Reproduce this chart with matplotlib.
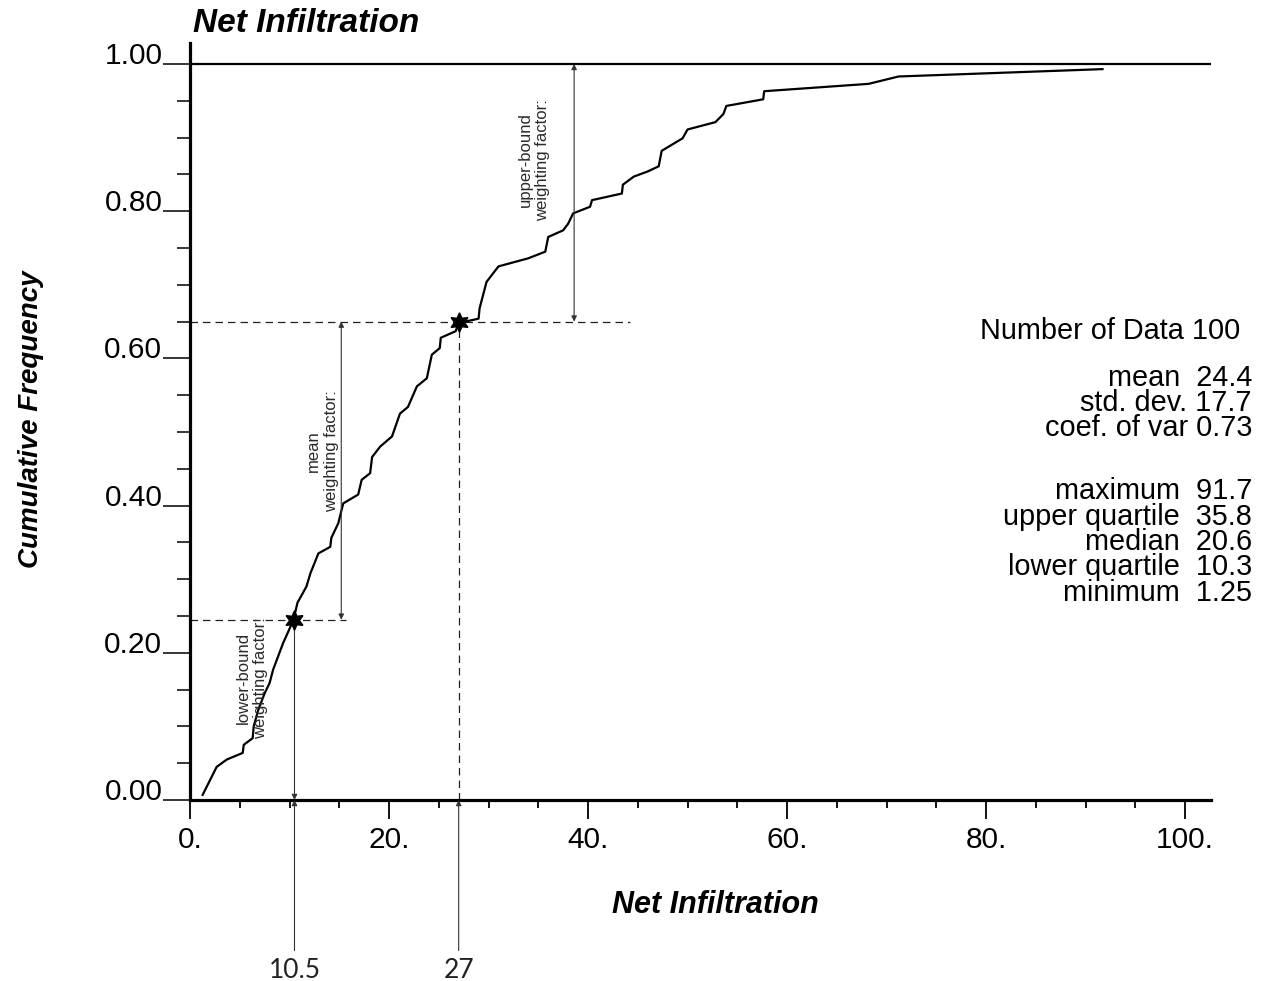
import matplotlib
matplotlib.use('Agg')
import matplotlib.pyplot as plt
import numpy as np

plt.rcParams['font.family'] = ['Liberation Sans', 'DejaVu Sans']

# cumulative frequency curve of net infiltration
net_infil = [1.27, 2.68, 3.7, 5.3, 5.4, 6.3, 6.4, 6.85, 7.5, 8.0, 8.35, 8.85,
             9.35, 9.85, 10.4, 10.8, 11.7, 12.1, 12.9, 14.1, 14.2, 14.9, 15.4,
             16.9, 17.25, 18.1, 18.3, 19.1, 20.3, 21.1, 21.9, 22.8, 23.8, 24.3,
             25.1, 25.2, 26.7, 27.0, 29.0, 29.1, 29.8, 31.0, 34.0, 35.7, 36.0,
             37.5, 38.0, 38.5, 40.2, 40.4, 43.4, 43.5, 44.6, 46.0, 47.1, 47.4,
             49.5, 50.0, 52.8, 53.6, 53.9, 57.6, 57.7, 68.2, 71.2, 91.7]
cum_freq = [0.007, 0.045, 0.055, 0.064, 0.075, 0.084, 0.10, 0.122, 0.145, 0.159,
            0.177, 0.195, 0.213, 0.228, 0.245, 0.268, 0.29, 0.308, 0.335, 0.344,
            0.356, 0.376, 0.403, 0.415, 0.435, 0.444, 0.466, 0.48, 0.494, 0.525,
            0.534, 0.562, 0.573, 0.605, 0.614, 0.628, 0.637, 0.648, 0.654, 0.668,
            0.704, 0.725, 0.736, 0.745, 0.765, 0.774, 0.783, 0.797, 0.806, 0.815,
            0.824, 0.836, 0.847, 0.854, 0.861, 0.882, 0.899, 0.911, 0.921, 0.932,
            0.943, 0.952, 0.963, 0.973, 0.983, 0.993]

lower_pt = (10.5, 0.245)
upper_pt = (27.0, 0.65)
lower_dash_end = 15.7
upper_dash_end = 44.2
mean_arrow_x = 15.2
upper_arrow_x = 38.6

stat_moments = ['mean  24.4', 'std. dev. 17.7', 'coef. of var 0.73']
stat_quantiles = ['maximum  91.7', 'upper quartile  35.8', 'median  20.6',
                  'lower quartile  10.3', 'minimum  1.25']

xticks = [0, 20, 40, 60, 80, 100]
xtick_labels = ['0.', '20.', '40.', '60.', '80.', '100.']
yticks = [0.0, 0.2, 0.4, 0.6, 0.8, 1.0]
ytick_labels = ['0.00', '0.20', '0.40', '0.60', '0.80', '1.00']

W, H = 1264, 981
fig = plt.figure(figsize=(W / 100, H / 100), dpi=100)
ax = fig.add_axes([190 / W, (H - 800) / H, (1211 - 190) / W, (800 - 43) / H])
ax.set_xlim(0, 102.6)
ax.set_ylim(0, 1.0285)

for s in ['top', 'right']:
    ax.spines[s].set_visible(False)
for s in ['left', 'bottom']:
    ax.spines[s].set_linewidth(2.3)

ax.set_xticks(xticks)
ax.set_xticklabels(xtick_labels)
ax.set_xticks(np.arange(5, 101, 5), minor=True)
ax.set_yticks(yticks)
ax.set_yticklabels(ytick_labels)
ax.set_yticks(np.arange(0.05, 1.0, 0.05), minor=True)
ax.tick_params(axis='x', which='major', length=13.7, width=1.3, pad=5,
               labelsize=21.5, direction='out')
ax.tick_params(axis='x', which='minor', length=5.8, width=1.3, direction='out')
ax.tick_params(axis='y', which='major', length=19.4, width=1.1, pad=0.5,
               labelsize=21.5, direction='out')
ax.tick_params(axis='y', which='minor', length=9.4, width=1.1, direction='out')
for lbl in ax.get_yticklabels():
    lbl.set_verticalalignment('baseline')

ax.axhline(1.0, color='black', lw=1.6)

ax.plot(net_infil, cum_freq, color='black', lw=1.6, zorder=3)

dash = dict(color='#222222', lw=0.9, dashes=(6, 4))
ax.plot([0, lower_dash_end], [lower_pt[1], lower_pt[1]], **dash)
ax.plot([0, upper_dash_end], [upper_pt[1], upper_pt[1]], **dash)
ax.plot([upper_pt[0], upper_pt[0]], [0, upper_pt[1]], **dash)

ax.plot([lower_pt[0], upper_pt[0]], [lower_pt[1], upper_pt[1]], ls='none',
        marker=(6, 1, 0), ms=14, color='black', zorder=4)

aprops = dict(arrowstyle='<|-|>', color='#333333', lw=0.8, mutation_scale=8,
              shrinkA=0, shrinkB=0)
ax.annotate('', xy=(lower_pt[0], 0), xytext=(lower_pt[0], lower_pt[1]),
            arrowprops=aprops)
ax.annotate('', xy=(mean_arrow_x, lower_pt[1]), xytext=(mean_arrow_x, upper_pt[1]),
            arrowprops=aprops)
ax.annotate('', xy=(upper_arrow_x, upper_pt[1]), xytext=(upper_arrow_x, 1.0),
            arrowprops=aprops)

tkw = dict(rotation=90, ha='center', va='center', fontsize=12, color='#2a2a2a')
ax.text(6.2, 0.166, 'lower-bound\nweighting factor:', **tkw)
ax.text(13.3, 0.474, 'mean\nweighting factor:', **tkw)
ax.text(34.6, 0.870, 'upper-bound\nweighting factor:', **tkw)

# values pointed at from below the axis
bkw = dict(arrowstyle='-|>', color='#333333', lw=0.8, mutation_scale=8,
           shrinkA=3, shrinkB=0)
for xv, lab in [(lower_pt[0], '10.5'), (upper_pt[0], '27')]:
    ax.annotate(lab, xy=(xv, 0), xytext=(xv, -0.231), ha='center', va='center',
                fontsize=19, family=['Lato', 'DejaVu Sans'], color='#222222',
                arrowprops=bkw, annotation_clip=False)

skw = dict(ha='right', va='center', multialignment='right', fontsize=20.8,
           linespacing=0.88)
fig.text(1240 / W, 1 - 331 / H, 'Number of Data 100', **skw)
fig.text(1252 / W, 1 - 403 / H, '\n'.join(stat_moments), **skw)
fig.text(1252 / W, 1 - 542 / H, '\n'.join(stat_quantiles), **skw)

fig.text(193 / W, 1 - 24 / H, 'Net Infiltration', ha='left', va='center',
         fontsize=24, fontweight='bold', fontstyle='italic')
fig.text(715 / W, 1 - 905 / H, 'Net Infiltration', ha='center', va='center',
         fontsize=22, fontweight='bold', fontstyle='italic')
fig.text(31 / W, 1 - 419 / H, 'Cumulative Frequency', ha='center', va='center',
         rotation=90, fontsize=20, fontweight='bold', fontstyle='italic')

fig.savefig('out.png', dpi=100, facecolor='white')
